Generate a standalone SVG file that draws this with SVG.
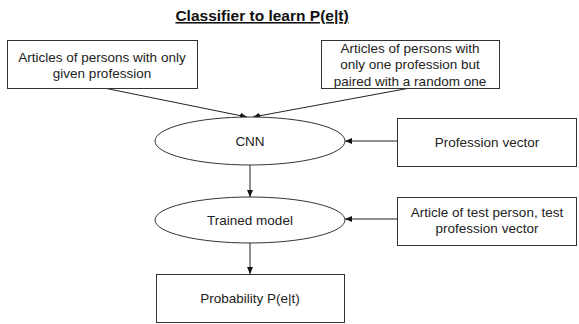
<svg xmlns="http://www.w3.org/2000/svg" width="579" height="324" viewBox="0 0 579 324">
<style>
.box{fill:#fff;stroke:#333;stroke-width:1}
.t{font-family:"Liberation Sans",Arial,sans-serif;font-size:13.5px;fill:#222;text-anchor:middle}
.title{font-family:"Liberation Sans",Arial,sans-serif;font-size:15.5px;font-weight:bold;fill:#111;text-anchor:middle;text-decoration:underline}
.c{fill:none;stroke:#222;stroke-width:1;marker-end:url(#ah)}
</style>
<defs>
<marker id="ah" markerWidth="7" markerHeight="6" refX="7" refY="3" orient="auto" markerUnits="userSpaceOnUse">
<path d="M0,0 L7,3 L0,6 Z" fill="#111"/>
</marker>
</defs>
<rect width="579" height="324" fill="#fff"/>
<text class="title" x="262" y="21">Classifier to learn P(e|t)</text>
<g id="connectors">
<line class="c" x1="104" y1="88" x2="247" y2="117"/>
<line class="c" x1="410" y1="88" x2="253" y2="117"/>
<line class="c" x1="397" y1="141" x2="345" y2="141"/>
<line class="c" x1="250" y1="165" x2="250" y2="197"/>
<line class="c" x1="397" y1="219" x2="345" y2="219"/>
<line class="c" x1="250" y1="243" x2="250" y2="274"/>
</g>
<g id="n1">
<rect class="box" x="7.5" y="40.5" width="190" height="48"/>
<text class="t" x="102" y="62">Articles of persons with only</text>
<text class="t" x="102" y="78">given profession</text>
</g>
<g id="n2">
<rect class="box" x="321.5" y="40.5" width="178" height="48"/>
<text class="t" x="410" y="53">Articles of persons with</text>
<text class="t" x="410" y="69">only one profession but</text>
<text class="t" x="410" y="86">paired with a random one</text>
</g>
<g id="n3">
<ellipse class="box" cx="250" cy="141" rx="95" ry="24"/>
<text class="t" x="250" y="146">CNN</text>
</g>
<g id="n4">
<rect class="box" x="397.5" y="118.5" width="179" height="48"/>
<text class="t" x="487" y="147">Profession vector</text>
</g>
<g id="n5">
<ellipse class="box" cx="250" cy="220" rx="95" ry="23"/>
<text class="t" x="250" y="225">Trained model</text>
</g>
<g id="n6">
<rect class="box" x="397.5" y="197.5" width="179" height="48"/>
<text class="t" x="487" y="217">Article of test person, test</text>
<text class="t" x="487" y="233">profession vector</text>
</g>
<g id="n7">
<rect class="box" x="156.5" y="274.5" width="188" height="48"/>
<text class="t" x="250" y="303">Probability P(e|t)</text>
</g>
</svg>
